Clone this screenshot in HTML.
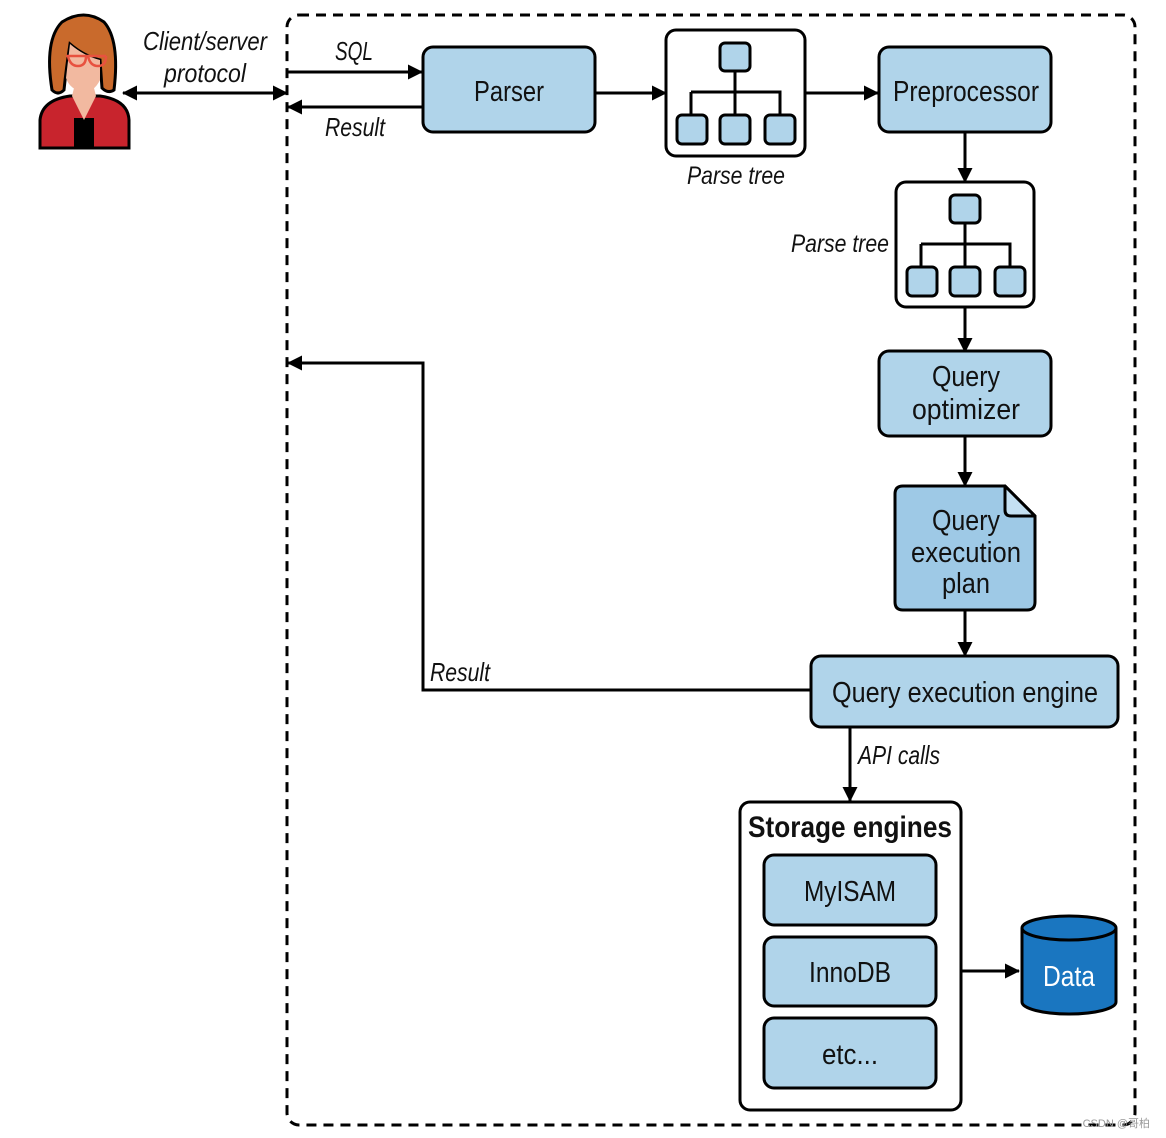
<!DOCTYPE html>
<html><head><meta charset="utf-8"><style>
html,body{margin:0;padding:0;background:#fff}
svg{display:block}
text{font-family:"Liberation Sans Narrow","Liberation Sans",sans-serif;fill:#111}
</style></head><body>
<svg width="1166" height="1138" viewBox="0 0 1166 1138" xmlns="http://www.w3.org/2000/svg">
<defs>
<marker id="a" markerWidth="15" markerHeight="15" refX="14" refY="7.5" orient="auto" markerUnits="userSpaceOnUse"><path d="M0,0 L15,7.5 L0,15 z" fill="#000"/></marker>
<marker id="as" markerWidth="15" markerHeight="15" refX="1" refY="7.5" orient="auto" markerUnits="userSpaceOnUse"><path d="M15,0 L0,7.5 L15,15 z" fill="#000"/></marker>
<g id="tree">
<rect x="54" y="13" width="30" height="28" rx="5" fill="#b0d4ea" stroke="#000" stroke-width="3"/>
<path d="M69 41 V85 M25 62 H114 V85 M25 62 V85" fill="none" stroke="#000" stroke-width="3"/>
<rect x="11" y="85" width="30" height="29" rx="5" fill="#b0d4ea" stroke="#000" stroke-width="3"/>
<rect x="54" y="85" width="30" height="29" rx="5" fill="#b0d4ea" stroke="#000" stroke-width="3"/>
<rect x="99" y="85" width="30" height="29" rx="5" fill="#b0d4ea" stroke="#000" stroke-width="3"/>
</g>
</defs>
<rect x="287" y="15" width="848" height="1110" rx="12" fill="none" stroke="#000" stroke-width="3" stroke-dasharray="10,7"/>
<g>
<path d="M40 148 V120 Q42 100 70 96 L100 96 Q128 100 129 120 V148 Z" fill="#c8242d" stroke="#000" stroke-width="3"/>
<rect x="74" y="118" width="20" height="30" fill="#000"/>
<path d="M72 96 L84 120 L96 96 L92 80 H76 Z" fill="#f2b9a0"/>
<path d="M52 90 Q44 40 62 22 Q84 8 104 22 Q120 40 114 90 Q108 94 102 88 L100 60 Q84 56 70 44 Q66 70 64 90 Q58 96 52 90 Z" fill="#c96a2c" stroke="#000" stroke-width="3"/>
<path d="M70 44 Q84 56 100 60 L100 80 Q94 92 84 92 Q70 90 66 78 Z" fill="#f2b9a0"/>
<path d="M66 56 H106 M68 56 q2 10 10 10 q8 0 8-10 M88 56 q2 10 10 10 q8 0 8-10" fill="none" stroke="#e8523f" stroke-width="2.5"/>
</g>
<text x="205" y="50" font-size="26" font-style="italic" text-anchor="middle" textLength="124" lengthAdjust="spacingAndGlyphs">Client/server</text>
<text x="205" y="82" font-size="26" font-style="italic" text-anchor="middle" textLength="82" lengthAdjust="spacingAndGlyphs">protocol</text>
<line x1="123" y1="93" x2="287" y2="93" stroke="#000" stroke-width="3" marker-start="url(#as)" marker-end="url(#a)"/>
<text x="354" y="60" font-size="26" font-style="italic" text-anchor="middle" textLength="38" lengthAdjust="spacingAndGlyphs">SQL</text>
<line x1="287" y1="72" x2="422" y2="72" stroke="#000" stroke-width="3" marker-end="url(#a)"/>
<line x1="422" y1="107" x2="288" y2="107" stroke="#000" stroke-width="3" marker-end="url(#a)"/>
<text x="355" y="136" font-size="26" font-style="italic" text-anchor="middle" textLength="60" lengthAdjust="spacingAndGlyphs">Result</text>
<rect x="423" y="47" width="172" height="85" rx="10" fill="#b0d4ea" stroke="#000" stroke-width="3"/>
<text x="509" y="101" font-size="29" text-anchor="middle" textLength="70" lengthAdjust="spacingAndGlyphs">Parser</text>
<line x1="595" y1="93" x2="666" y2="93" stroke="#000" stroke-width="3" marker-end="url(#a)"/>
<rect x="666" y="30" width="139" height="126" rx="10" fill="#fff" stroke="#000" stroke-width="3"/>
<use href="#tree" x="666" y="30"/>
<text x="736" y="184" font-size="25" font-style="italic" text-anchor="middle" textLength="98" lengthAdjust="spacingAndGlyphs">Parse tree</text>
<line x1="805" y1="93" x2="878" y2="93" stroke="#000" stroke-width="3" marker-end="url(#a)"/>
<rect x="879" y="47" width="172" height="85" rx="10" fill="#b0d4ea" stroke="#000" stroke-width="3"/>
<text x="966" y="101" font-size="29" text-anchor="middle" textLength="146" lengthAdjust="spacingAndGlyphs">Preprocessor</text>
<line x1="965" y1="132" x2="965" y2="182" stroke="#000" stroke-width="3" marker-end="url(#a)"/>
<rect x="896" y="182" width="138" height="125" rx="10" fill="#fff" stroke="#000" stroke-width="3"/>
<use href="#tree" x="896" y="182"/>
<text x="889" y="252" font-size="25" font-style="italic" text-anchor="end" textLength="98" lengthAdjust="spacingAndGlyphs">Parse tree</text>
<line x1="965" y1="307" x2="965" y2="352" stroke="#000" stroke-width="3" marker-end="url(#a)"/>
<rect x="879" y="351" width="172" height="85" rx="10" fill="#b0d4ea" stroke="#000" stroke-width="3"/>
<text x="966" y="386" font-size="29" text-anchor="middle" textLength="68" lengthAdjust="spacingAndGlyphs">Query</text>
<text x="966" y="419" font-size="29" text-anchor="middle" textLength="108" lengthAdjust="spacingAndGlyphs">optimizer</text>
<line x1="965" y1="436" x2="965" y2="486" stroke="#000" stroke-width="3" marker-end="url(#a)"/>
<path d="M903 486 H1005 L1035 516 V602 Q1035 610 1027 610 H903 Q895 610 895 602 V494 Q895 486 903 486 Z" fill="#9ec9e6" stroke="#000" stroke-width="3"/>
<path d="M1005 486 V510 Q1005 516 1011 516 H1035 Z" fill="#c4e0f2" stroke="#000" stroke-width="3" stroke-linejoin="round"/>
<text x="966" y="530" font-size="29" text-anchor="middle" textLength="68" lengthAdjust="spacingAndGlyphs">Query</text>
<text x="966" y="562" font-size="29" text-anchor="middle" textLength="110" lengthAdjust="spacingAndGlyphs">execution</text>
<text x="966" y="593" font-size="29" text-anchor="middle" textLength="48" lengthAdjust="spacingAndGlyphs">plan</text>
<line x1="965" y1="610" x2="965" y2="656" stroke="#000" stroke-width="3" marker-end="url(#a)"/>
<rect x="811" y="656" width="307" height="71" rx="10" fill="#b0d4ea" stroke="#000" stroke-width="3"/>
<text x="965" y="702" font-size="29" text-anchor="middle" textLength="266" lengthAdjust="spacingAndGlyphs">Query execution engine</text>
<polyline points="811,690 423,690 423,363 288,363" fill="none" stroke="#000" stroke-width="3" marker-end="url(#a)"/>
<text x="430" y="681" font-size="26" font-style="italic" textLength="60" lengthAdjust="spacingAndGlyphs">Result</text>
<line x1="850" y1="727" x2="850" y2="801" stroke="#000" stroke-width="3" marker-end="url(#a)"/>
<text x="858" y="764" font-size="26" font-style="italic" textLength="82" lengthAdjust="spacingAndGlyphs">API calls</text>
<rect x="740" y="802" width="221" height="308" rx="10" fill="#fff" stroke="#000" stroke-width="3"/>
<text x="850" y="837" font-size="30" font-weight="bold" text-anchor="middle" textLength="204" lengthAdjust="spacingAndGlyphs">Storage engines</text>
<rect x="764" y="855" width="172" height="70" rx="10" fill="#b0d4ea" stroke="#000" stroke-width="3"/>
<text x="850" y="901" font-size="29" text-anchor="middle" textLength="92" lengthAdjust="spacingAndGlyphs">MyISAM</text>
<rect x="764" y="937" width="172" height="69" rx="10" fill="#b0d4ea" stroke="#000" stroke-width="3"/>
<text x="850" y="982" font-size="29" text-anchor="middle" textLength="82" lengthAdjust="spacingAndGlyphs">InnoDB</text>
<rect x="764" y="1018" width="172" height="70" rx="10" fill="#b0d4ea" stroke="#000" stroke-width="3"/>
<text x="850" y="1064" font-size="29" text-anchor="middle" textLength="56" lengthAdjust="spacingAndGlyphs">etc...</text>
<line x1="961" y1="971" x2="1019" y2="971" stroke="#000" stroke-width="3" marker-end="url(#a)"/>
<path d="M1022 928 V1002 A47 12 0 0 0 1116 1002 V928" fill="#1a76c0" stroke="#000" stroke-width="3"/>
<ellipse cx="1069" cy="928" rx="47" ry="12" fill="#1a76c0" stroke="#000" stroke-width="3"/>
<text x="1069" y="986" font-size="29" text-anchor="middle" style="fill:#fff" textLength="52" lengthAdjust="spacingAndGlyphs">Data</text>
<text x="1150" y="1127" font-size="11" text-anchor="end" style="fill:#999">CSDN @哥柏</text>
</svg>
</body></html>
